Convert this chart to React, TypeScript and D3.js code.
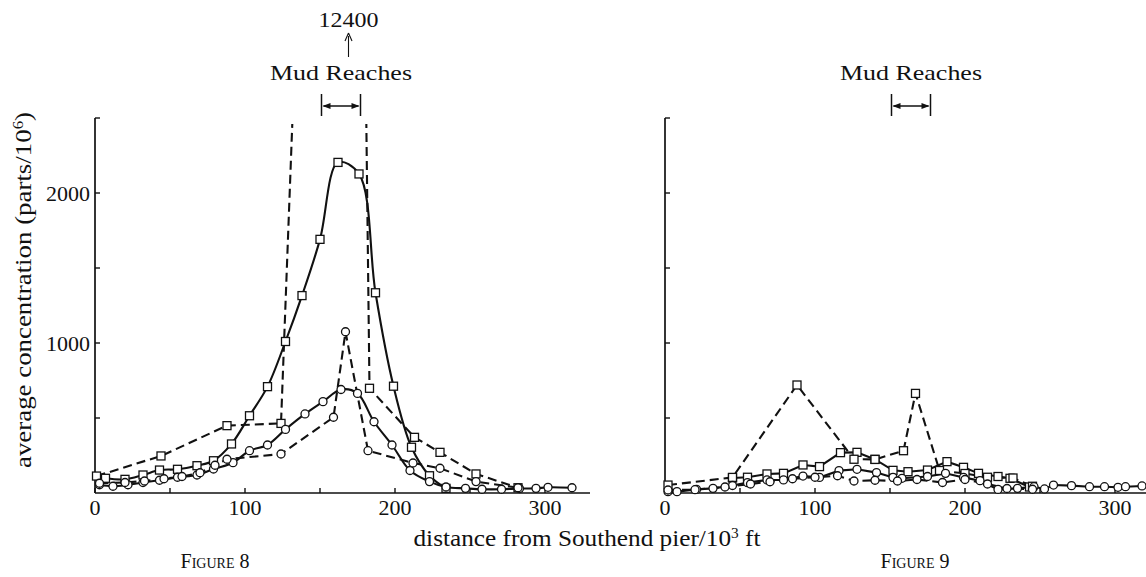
import React from "react";
import * as d3 from "d3";

// ---------- data ----------
const xTicksMajor = [0, 100, 200, 300];
const xTicksMinor = [50, 150, 250];
const yTicks = [500, 1000, 1500, 2000, 2500];
const yTickLabels = [1000, 2000];

const mudReaches = [151, 177];
const offChartPeakLabel = "12400";
const offChartPeakX = 169;

// Figure 8
const fig8SolidSquare: [number, number][] = [
  [7, 98], [20, 91], [32, 120], [43, 153], [55, 158], [68, 182], [79, 215], [91, 327],
  [103, 515], [115, 709], [127, 1010], [138, 1316], [150, 1691], [162, 2204], [176, 2127],
  [187, 1335], [199, 712], [211, 305], [223, 115], [234, 31],
];
const fig8DashedSquare: [number, number][] = [
  [1, 113], [44, 247], [88, 449], [124, 464], [169, 12400], [183, 698], [213, 371],
  [230, 271], [254, 127], [282, 35],
];
const fig8SolidCircle: [number, number][] = [
  [3, 55], [12, 45], [22, 55], [32, 70], [43, 85], [55, 105], [68, 120], [79, 160],
  [92, 202], [103, 282], [115, 320], [127, 424], [140, 527], [152, 609], [164, 690],
  [175, 664], [186, 475], [198, 320], [210, 150], [223, 76], [234, 40], [247, 31],
  [258, 25], [271, 25], [283, 30], [294, 31], [302, 38], [318, 35],
];
const fig8DashedCircle: [number, number][] = [
  [3, 65], [20, 70], [33, 80], [46, 95], [58, 110], [70, 135], [80, 185], [88, 225],
  [124, 260], [159, 505], [167, 1075], [182, 282], [212, 200], [230, 165], [254, 76],
  [282, 35],
];

// Figure 9
const fig9SolidSquare: [number, number][] = [
  [45, 100], [55, 105], [68, 127], [79, 131], [92, 187], [103, 176], [117, 269],
  [128, 271], [140, 224], [152, 151], [162, 142], [175, 153], [188, 209], [199, 171],
  [209, 131], [222, 110], [230, 98], [243, 40],
];
const fig9DashedSquare: [number, number][] = [
  [2, 53], [45, 104], [88, 720], [126, 225], [140, 224], [159, 282], [167, 664],
  [183, 150], [200, 130], [215, 105], [232, 100], [245, 45],
];
const fig9SolidCircle: [number, number][] = [
  [2, 9], [8, 9], [21, 24], [32, 31], [45, 50], [55, 69], [68, 87], [79, 87], [92, 113],
  [103, 104], [116, 149], [128, 158], [141, 136], [152, 104], [158, 98], [175, 110],
  [187, 131], [199, 104], [210, 82], [222, 24], [235, 31], [246, 42], [253, 27],
  [259, 53], [271, 49], [283, 42], [293, 42], [302, 38], [307, 42], [318, 47],
];
const fig9DashedCircle: [number, number][] = [
  [2, 20], [20, 22], [40, 40], [57, 60], [70, 75], [85, 95], [100, 105], [115, 115],
  [126, 80], [140, 85], [155, 80], [168, 90], [185, 70], [200, 90], [215, 60],
  [228, 30], [245, 25],
];

// ---------- layout ----------
const W = 1146;
const H = 577;
const FONT = "'Liberation Serif', 'Times New Roman', serif";
const y0 = 493;
const yTop = 118;

type Series = { data: [number, number][]; dashed: boolean; marker: "square" | "circle"; smooth: boolean };

function Panel({ x0, x1, xMax, series, id, showYLabels, mudY }: {
  x0: number; x1: number; xMax: number; series: Series[]; id: string; showYLabels: boolean; mudY: number;
}) {
  const x = d3.scaleLinear().domain([0, xMax]).range([x0, x1]);
  const y = d3.scaleLinear().domain([0, 2500]).range([y0, yTop]);
  const lineLin = d3.line<[number, number]>().x((d) => x(d[0])).y((d) => y(d[1]));
  const lineSmooth = d3
    .line<[number, number]>()
    .x((d) => x(d[0]))
    .y((d) => y(d[1]))
    .curve(d3.curveCatmullRom.alpha(0.5));
  return (
    <g>
      <defs>
        <clipPath id={id}>
          <rect x={x0 - 10} y={yTop + 6} width={x1 - x0 + 20} height={y0 - yTop + 20} />
        </clipPath>
      </defs>
      {/* axes */}
      <line x1={x0} y1={y(2500)} x2={x0} y2={y0} stroke="#111" strokeWidth={1.7} />
      <line x1={x0} y1={y0} x2={x1} y2={y0} stroke="#111" strokeWidth={1.5} />
      {yTicks.map((t) => (
        <line key={t} x1={x0} x2={x0 + 5} y1={y(t)} y2={y(t)} stroke="#111" strokeWidth={1.4} />
      ))}
      {showYLabels &&
        yTickLabels.map((t) => (
          <text key={t} x={x0 - 5} y={y(t) + 8} textAnchor="end" fontSize={22} fontFamily={FONT} fill="#111">
            {t}
          </text>
        ))}
      {[...xTicksMajor, ...xTicksMinor].map((t) => (
        <line key={t} x1={x(t)} x2={x(t)} y1={y0} y2={y0 - 5} stroke="#111" strokeWidth={1.4} />
      ))}
      {xTicksMajor.map((t) => (
        <text key={t} x={x(t)} y={y0 + 22} textAnchor="middle" fontSize={22} fontFamily={FONT} fill="#111">
          {t}
        </text>
      ))}
      {/* series */}
      <g clipPath={`url(#${id})`}>
        {series.map((s, i) => (
          <path
            key={i}
            d={(s.smooth ? lineSmooth : lineLin)(s.data) || ""}
            fill="none"
            stroke="#111"
            strokeWidth={2.1}
            strokeDasharray={s.dashed ? "9 5" : undefined}
          />
        ))}
        {series.map((s, i) =>
          s.data.map((d, j) =>
            s.marker === "square" ? (
              <rect key={`${i}-${j}`} x={x(d[0]) - 4} y={y(d[1]) - 4} width={8} height={8} fill="#fff" stroke="#111" strokeWidth={1.3} />
            ) : (
              <circle key={`${i}-${j}`} cx={x(d[0])} cy={y(d[1])} r={4} fill="#fff" stroke="#111" strokeWidth={1.3} />
            )
          )
        )}
      </g>
      {/* mud reaches bracket */}
      <text
        x={(x(mudReaches[0]) + x(mudReaches[1])) / 2}
        y={mudY - 26}
        textAnchor="middle"
        fontSize={21}
        fontFamily={FONT}
        textLength={142}
        lengthAdjust="spacingAndGlyphs"
        fill="#111"
      >
        Mud Reaches
      </text>
      <line x1={x(mudReaches[0])} x2={x(mudReaches[0])} y1={mudY - 12} y2={mudY + 10} stroke="#111" strokeWidth={1.5} />
      <line x1={x(mudReaches[1])} x2={x(mudReaches[1])} y1={mudY - 12} y2={mudY + 10} stroke="#111" strokeWidth={1.5} />
      <line x1={x(mudReaches[0]) + 2} x2={x(mudReaches[1]) - 2} y1={mudY} y2={mudY} stroke="#111" strokeWidth={1.3} />
      <path
        d={`M${x(mudReaches[0]) + 1},${mudY} l8,-3 l0,6 z M${x(mudReaches[1]) - 1},${mudY} l-8,-3 l0,6 z`}
        fill="#111"
      />
    </g>
  );
}

export default function App() {
  const fig8: Series[] = [
    { data: fig8SolidSquare, dashed: false, marker: "square", smooth: true },
    { data: fig8DashedSquare, dashed: true, marker: "square", smooth: false },
    { data: fig8SolidCircle, dashed: false, marker: "circle", smooth: true },
    { data: fig8DashedCircle, dashed: true, marker: "circle", smooth: false },
  ];
  const fig9: Series[] = [
    { data: fig9SolidSquare, dashed: false, marker: "square", smooth: false },
    { data: fig9DashedSquare, dashed: true, marker: "square", smooth: false },
    { data: fig9SolidCircle, dashed: false, marker: "circle", smooth: false },
    { data: fig9DashedCircle, dashed: true, marker: "circle", smooth: false },
  ];
  const xLeft = d3.scaleLinear().domain([0, 330]).range([95, 590]);
  const peakX = xLeft(offChartPeakX);
  return (
    <svg width={W} height={H} viewBox={`0 0 ${W} ${H}`} style={{ position: "absolute", left: 0, top: 0, background: "#fff" }}>
      <rect width={W} height={H} fill="#fff" />
      <Panel x0={95} x1={590} xMax={330} series={fig8} id="clip8" showYLabels={true} mudY={106} />
      <Panel x0={665} x1={1146.5} xMax={321} series={fig9} id="clip9" showYLabels={false} mudY={106} />
      {/* off-chart peak annotation */}
      <text x={peakX} y={27} textAnchor="middle" fontSize={22} fontFamily={FONT} fill="#111" textLength={60} lengthAdjust="spacingAndGlyphs">
        {offChartPeakLabel}
      </text>
      <line x1={peakX} x2={peakX} y1={36} y2={57} stroke="#111" strokeWidth={1.1} />
      <path d={`M${peakX},33 l-3.5,8 M${peakX},33 l3.5,8`} stroke="#111" strokeWidth={1.1} fill="none" />
      {/* axis titles */}
      <text
        transform="translate(31,290) rotate(-90)"
        textAnchor="middle"
        fontSize={24}
        fontFamily={FONT}
        fill="#111"
        textLength={356}
        lengthAdjust="spacingAndGlyphs"
      >
        average concentration (parts/10<tspan dy={-8} fontSize={15}>6</tspan><tspan dy={8}>)</tspan>
      </text>
      <text x={587} y={546} textAnchor="middle" fontSize={23} fontFamily={FONT} fill="#111" textLength={347} lengthAdjust="spacingAndGlyphs">
        distance from Southend pier/10<tspan dy={-8} fontSize={14}>3</tspan><tspan dy={8}> ft</tspan>
      </text>
      <text x={215} y={568} textAnchor="middle" fontSize={20} fontFamily={FONT} fill="#111" style={{ fontVariant: "small-caps" }}>
        Figure 8
      </text>
      <text x={915} y={568} textAnchor="middle" fontSize={20} fontFamily={FONT} fill="#111" style={{ fontVariant: "small-caps" }}>
        Figure 9
      </text>
    </svg>
  );
}
